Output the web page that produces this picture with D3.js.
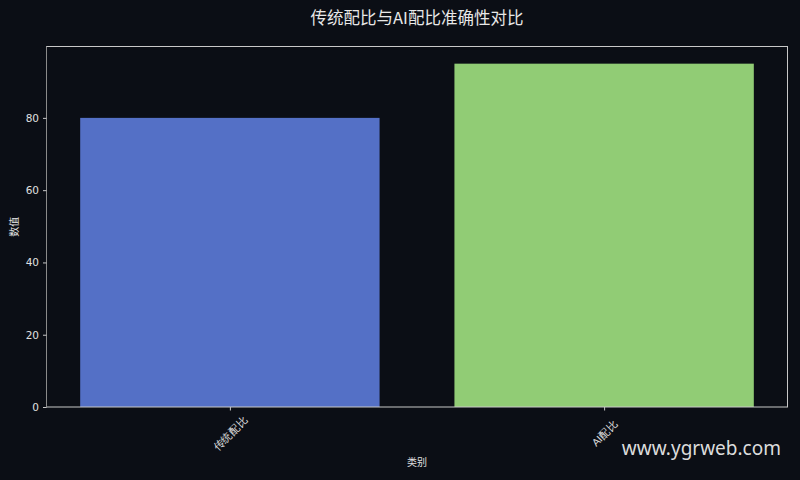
<!DOCTYPE html>
<html>
<head>
<meta charset="utf-8">
<script src="https://cdn.jsdelivr.net/npm/d3@7"></script>
<style>
	body { margin: 0; background: #0b0e15; }
	svg { display: block; font-family: "Noto Sans CJK SC", "DejaVu Sans", sans-serif; }
</style>
</head>
<body>
<svg id="chart" width="800" height="480"></svg>
<script>
var categories = ['传统配比', 'AI配比'];
var values = [80, 95];
var colors = ['#5470c6', '#91cc75'];
var yTicks = [0, 20, 40, 60, 80];

var svg = d3.select('#chart');
var mLeft = 46.5, mRight = 787.5, mTop = 46.5, mBottom = 407;

svg.append('rect')
	.attr('width', 800).attr('height', 480)
	.attr('fill', '#0b0e15');

var x = d3.scaleLinear().domain([-0.49, 1.49]).range([mLeft, mRight]);
var y = d3.scaleLinear().domain([0, 99.75]).range([mBottom, mTop]);

// bars
svg.selectAll('rect.bar')
	.data(values)
	.enter()
	.append('rect')
		.attr('class', 'bar')
		.attr('x', function (d, i) { return x(i - 0.4); })
		.attr('width', function () { return x(0.4) - x(-0.4); })
		.attr('y', function (d) { return y(d); })
		.attr('height', function (d) { return y(0) - y(d); })
		.attr('fill', function (d, i) { return colors[i]; });

// frame
svg.append('rect')
	.attr('x', mLeft).attr('y', mTop)
	.attr('width', mRight - mLeft).attr('height', mBottom - mTop)
	.attr('fill', 'none')
	.attr('stroke', '#c8c8c8')
	.attr('stroke-width', 1);
svg.append('line')
	.attr('x1', mLeft).attr('x2', mLeft)
	.attr('y1', mTop).attr('y2', mBottom)
	.attr('stroke', '#8a8a8a');

// y axis
var yAxis = d3.axisLeft(y).tickValues(yTicks).tickSize(3.5).tickPadding(4);
var gy = svg.append('g').attr('transform', 'translate(' + mLeft + ',0)').call(yAxis);
gy.select('.domain').remove();
gy.selectAll('line').attr('stroke', '#c8c8c8');
gy.selectAll('text').attr('fill', '#e0e0e0').attr('font-size', 10.5)
	.attr('font-family', '"DejaVu Sans", sans-serif');

// x axis
var xAxis = d3.axisBottom(x).tickValues([0, 1]).tickSize(3.5).tickFormat(function (d) { return categories[d]; });
var gx = svg.append('g').attr('transform', 'translate(0,' + mBottom + ')').call(xAxis);
gx.select('.domain').remove();
gx.selectAll('line').attr('stroke', '#c8c8c8');
gx.selectAll('text')
	.attr('fill', '#e0e0e0')
	.attr('font-size', 10.5)
	.attr('text-anchor', 'middle')
	.attr('dy', null)
	.attr('y', 0)
	.attr('dominant-baseline', 'central')
	.attr('transform', 'translate(0,26) rotate(-45)');

// title and labels
svg.append('text')
	.attr('x', 417).attr('y', 24)
	.attr('text-anchor', 'middle')
	.attr('fill', '#e8e8e8')
	.attr('font-size', 16.5)
	.text('传统配比与AI配比准确性对比');

svg.append('text')
	.attr('x', 417).attr('y', 466)
	.attr('text-anchor', 'middle')
	.attr('fill', '#e0e0e0')
	.attr('font-size', 10)
	.text('类别');

svg.append('text')
	.attr('transform', 'translate(18,' + ((mTop + mBottom) / 2) + ') rotate(-90)')
	.attr('text-anchor', 'middle')
	.attr('fill', '#e0e0e0')
	.attr('font-size', 10)
	.text('数值');

// watermark
svg.append('text')
	.attr('x', 781).attr('y', 455)
	.attr('text-anchor', 'end')
	.attr('fill', '#dcdcdc')
	.attr('font-size', 19)
	.attr('font-family', '"Noto Sans", "Open Sans", sans-serif')
	.text('www.ygrweb.com');
</script>
</body>
</html>
